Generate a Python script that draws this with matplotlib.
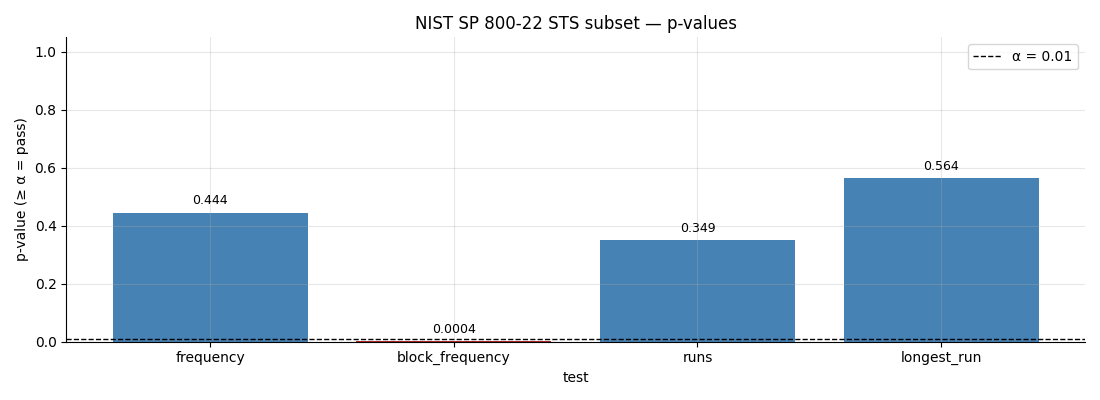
import matplotlib
matplotlib.use('Agg')
import matplotlib.pyplot as plt

# ----------------------------------------------------------------
#  DATA
# ----------------------------------------------------------------
tests   = ['frequency', 'block_frequency', 'runs', 'longest_run']
pvalues = [0.444, 0.0004, 0.349, 0.564]
ALPHA   = 0.01

colors = ['steelblue' if p >= ALPHA else 'firebrick' for p in pvalues]

fig, ax = plt.subplots(figsize=(11, 4), dpi=100)
bars = ax.bar(tests, pvalues, color=colors, width=0.8)
ax.axhline(ALPHA, color='black', linestyle='--', linewidth=1,
           label=f'α = {ALPHA}')

for b, p in zip(bars, pvalues):
    ax.annotate(f'{p:.3g}', (b.get_x() + b.get_width() / 2, b.get_height()),
                xytext=(0, 4), textcoords='offset points',
                ha='center', va='bottom', fontsize=9)

ax.set_ylim(0, 1.05)
ax.set_xlabel('test')
ax.set_ylabel('p-value (≥ α = pass)')
ax.set_title('NIST SP 800-22 STS subset — p-values', fontsize=12)
ax.grid(alpha=0.3)
ax.spines['top'].set_visible(False)
ax.spines['right'].set_visible(False)
ax.legend(loc='upper right')
plt.tight_layout()
plt.savefig('out.png', dpi=100)
